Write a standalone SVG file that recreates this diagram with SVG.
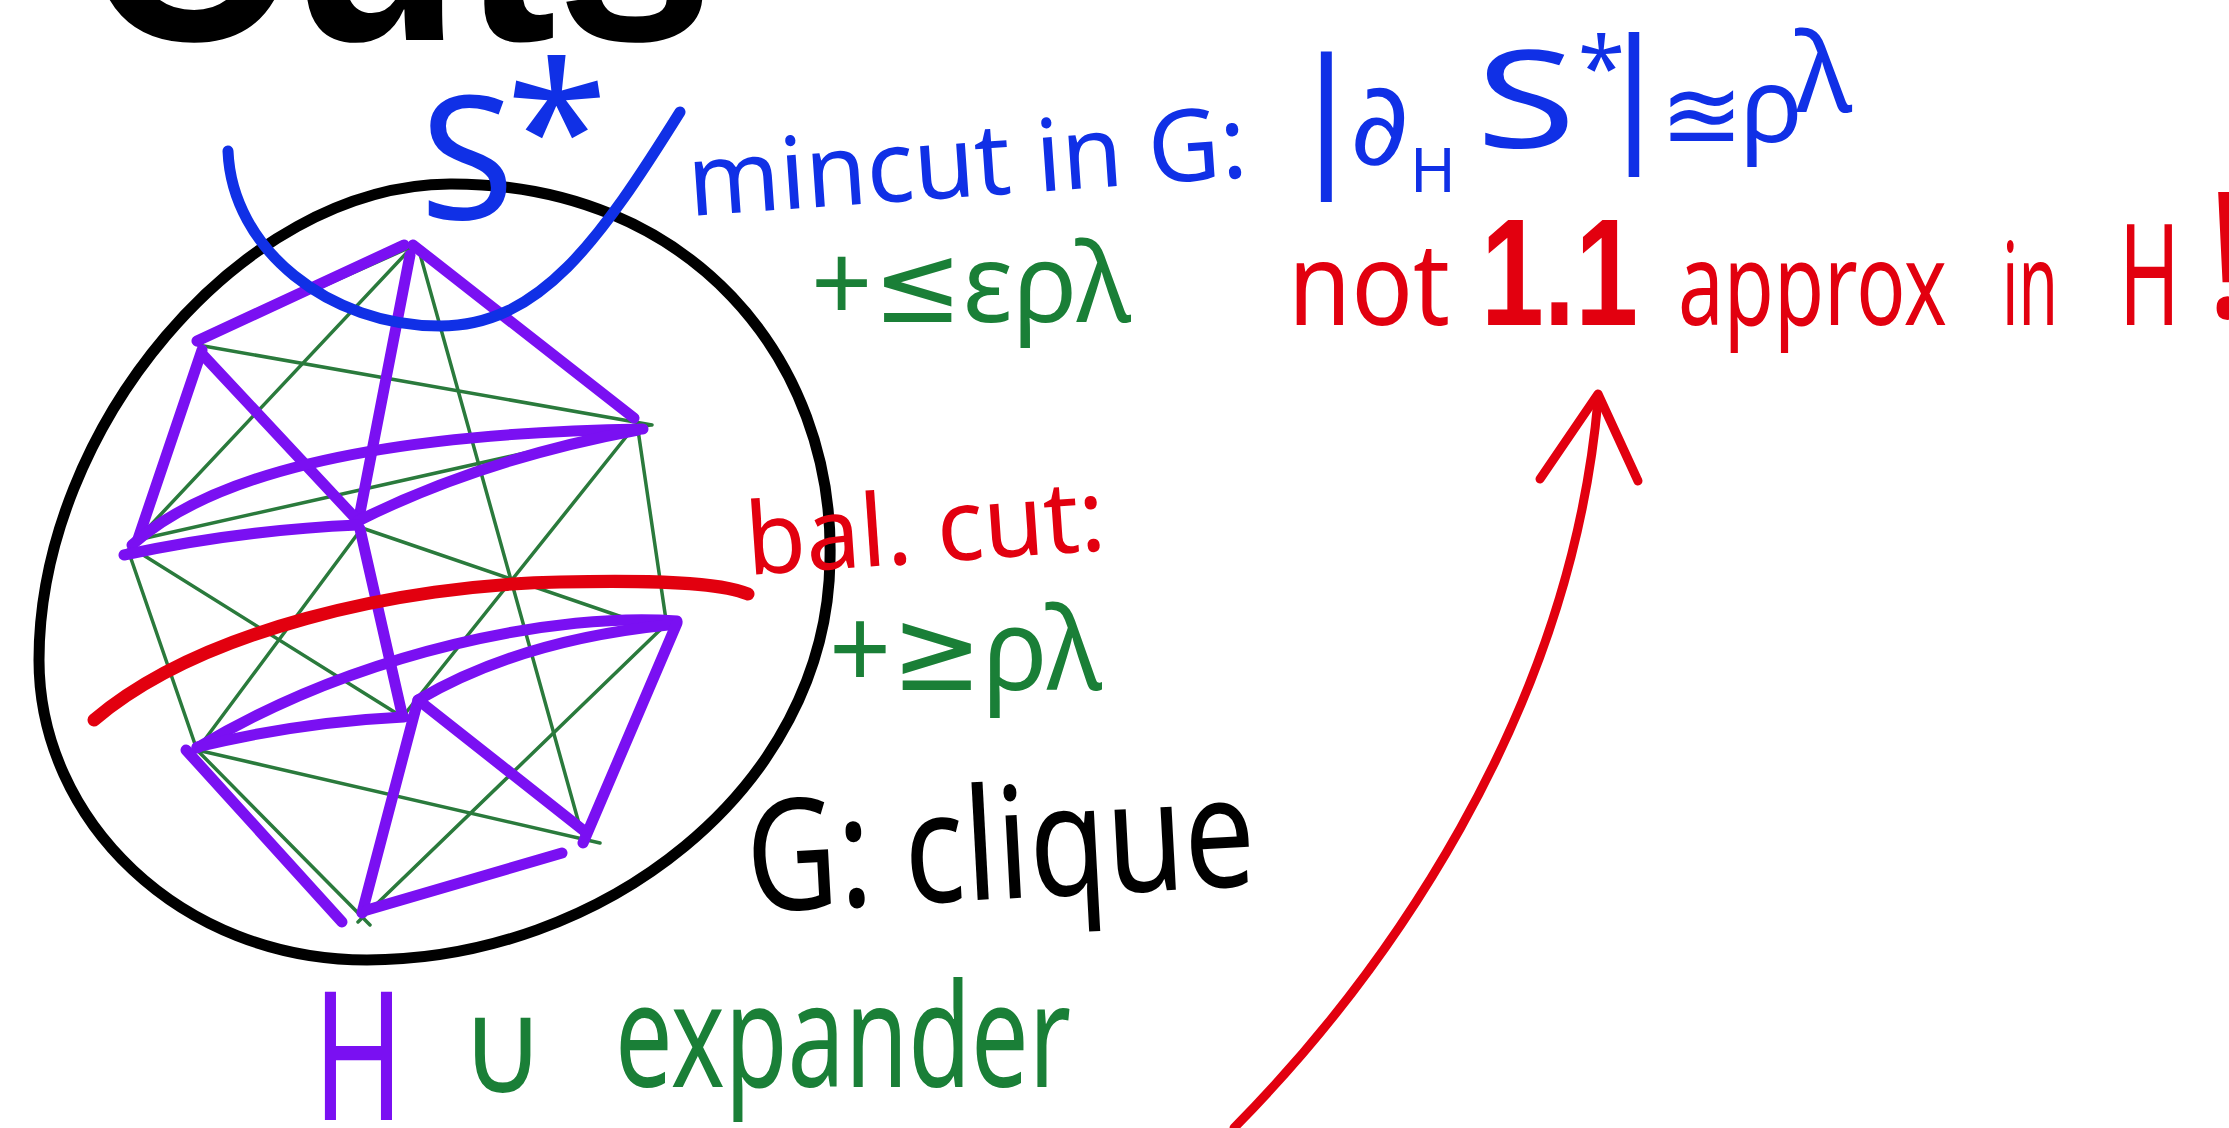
<svg xmlns="http://www.w3.org/2000/svg" width="2229" height="1128" viewBox="0 0 2229 1128">
<style>
.hw{font-family:"Noto Sans","DejaVu Sans",sans-serif}
.bold{font-family:"Liberation Sans",Arial,sans-serif;font-weight:bold}
.blue{fill:#1030e6}
.green{fill:#1a7f37}
.red{fill:#e2000f}
.purple{fill:#7a10f2}
.blk{fill:#000}
.pe{stroke:#7a10f2;stroke-width:11;stroke-linecap:round;stroke-linejoin:round;fill:none}
.ge{stroke:#2a7a3c;stroke-width:3.5;stroke-linecap:round;fill:none}
</style>
<rect width="2229" height="1128" fill="#fff"/>

<g id="title">
<text class="bold blk" x="84" y="40" font-size="290" textLength="630" lengthAdjust="spacingAndGlyphs">Cuts</text>
</g>

<g id="ellipse-G">
<path d="M450,184 C690,183 835,360 830,560 C827,790 600,960 367,960 C180,960 39,820 39,660 C39,430 240,185 450,184 Z" fill="none" stroke="#000" stroke-width="11"/>
</g>

<g id="graph">
<g id="expander-edges">
<line class="ge" x1="413" y1="246" x2="132" y2="545"/>
<line class="ge" x1="413" y1="246" x2="198" y2="342"/>
<line class="ge" x1="420" y1="254" x2="583" y2="838"/>
<line class="ge" x1="198" y1="345" x2="652" y2="425"/>
<line class="ge" x1="137" y1="540" x2="650" y2="425"/>
<line class="ge" x1="638" y1="430" x2="666" y2="620"/>
<line class="ge" x1="630" y1="432" x2="404" y2="715"/>
<line class="ge" x1="132" y1="548" x2="404" y2="718"/>
<line class="ge" x1="128" y1="550" x2="197" y2="750"/>
<line class="ge" x1="362" y1="528" x2="660" y2="630"/>
<line class="ge" x1="362" y1="528" x2="197" y2="750"/>
<line class="ge" x1="660" y1="630" x2="358" y2="922"/>
<line class="ge" x1="197" y1="750" x2="600" y2="843"/>
<line class="ge" x1="197" y1="750" x2="370" y2="925"/>
</g>
<g id="H-edges">
<line class="pe" x1="404" y1="245" x2="197" y2="341"/>
<line class="pe" x1="413" y1="245" x2="634" y2="418"/>
<line class="pe" x1="410" y1="255" x2="358" y2="523"/>
<line class="pe" x1="360" y1="529" x2="402" y2="714"/>
<line class="pe" x1="202" y1="350" x2="138" y2="539"/>
<line class="pe" x1="202" y1="354" x2="358" y2="521"/>
<path class="pe" d="M132,545 Q254,435 643,429"/>
<path class="pe" d="M358,521 Q482,459 638,430"/>
<path class="pe" d="M124,555 Q240,530 358,525"/>
<path class="pe" d="M677,621 C560,612 360,650 197,748"/>
<path class="pe" d="M668,625 Q520,640 418,700"/>
<path class="pe" d="M197,747 Q300,722 404,717"/>
<line class="pe" x1="418" y1="700" x2="362" y2="913"/>
<line class="pe" x1="422" y1="703" x2="583" y2="830"/>
<line class="pe" x1="677" y1="623" x2="583" y2="843"/>
<line class="pe" x1="186" y1="750" x2="342" y2="922"/>
<line class="pe" x1="367" y1="910" x2="562" y2="853"/>
</g>
</g>

<g id="balanced-cut">
<path d="M94,720 C200,630 400,585 560,582 C650,580 720,582 748,594" fill="none" stroke="#e2000f" stroke-width="13" stroke-linecap="round"/>
<text class="hw red" x="748" y="575" font-size="100" textLength="360" lengthAdjust="spacingAndGlyphs" transform="rotate(-4 748 575)">bal. cut:</text>
<text class="hw green" x="829" y="690" font-size="115" textLength="273" lengthAdjust="spacingAndGlyphs">+≥ρλ</text>
</g>

<g id="S-star">
<path d="M228,151 C232,250 330,326 440,326 C540,326 600,240 680,112" fill="none" stroke="#1030e6" stroke-width="11" stroke-linecap="round"/>
<text class="hw blue" x="420" y="219" font-size="172">S</text>
<text class="hw blue" x="506" y="196" font-size="185">*</text>
</g>

<g id="mincut-label">
<text class="hw blue" x="690" y="216" font-size="100" textLength="560" lengthAdjust="spacingAndGlyphs" transform="rotate(-4 690 216)">mincut in G:</text>
<text class="hw blue"><tspan x="1285" y="166" font-size="150">|</tspan><tspan x="1350" y="164" font-size="115">∂</tspan><tspan x="1410" y="192" font-size="62">H</tspan><tspan x="1476" y="148" font-size="136" textLength="100" lengthAdjust="spacingAndGlyphs">S</tspan><tspan x="1578" y="98" font-size="85">*</tspan><tspan x="1594" y="142" font-size="145">|</tspan><tspan x="1660" y="150" font-size="100">≊</tspan><tspan x="1740" y="142" font-size="105">ρ</tspan><tspan x="1795" y="112" font-size="110">λ</tspan></text>
<text class="hw green" x="811" y="322" font-size="110" textLength="320" lengthAdjust="spacingAndGlyphs">+≤ερλ</text>
</g>

<g id="approx-label">
<text class="hw red" x="1288" y="325" font-size="115" textLength="162" lengthAdjust="spacingAndGlyphs">not</text>
<text class="bold red" x="1481" y="325" font-size="153" textLength="157" lengthAdjust="spacingAndGlyphs">1.1</text>
<text class="hw red" x="1678" y="325" font-size="115" textLength="269" lengthAdjust="spacingAndGlyphs">approx</text>
<text class="hw red" x="2002" y="325" font-size="115" textLength="56" lengthAdjust="spacingAndGlyphs">in</text>
<text class="hw red" x="2119" y="325" font-size="140" textLength="61" lengthAdjust="spacingAndGlyphs">H</text>
<text class="hw red" x="2204" y="318" font-size="175">!</text>
</g>

<g id="clique-label">
<text class="hw blk" x="749" y="912" font-size="155" textLength="509" lengthAdjust="spacingAndGlyphs" transform="rotate(-3 749 912)">G: clique</text>
</g>

<g id="expander-label">
<text class="hw purple" x="313" y="1120" font-size="180" textLength="91" lengthAdjust="spacingAndGlyphs">H</text>
<text class="green" x="460" y="1093" font-size="130" font-family="DejaVu Sans,sans-serif" textLength="85" lengthAdjust="spacingAndGlyphs">∪</text>
<text class="hw green" x="615" y="1087" font-size="145" textLength="456" lengthAdjust="spacingAndGlyphs">expander</text>
</g>

<g id="connectors">
<path d="M1234,1128 C1380,980 1570,720 1598,400" fill="none" stroke="#e2000f" stroke-width="9" stroke-linecap="round"/>
<polyline points="1540,479 1598,394 1638,481" fill="none" stroke="#e2000f" stroke-width="9" stroke-linecap="round" stroke-linejoin="round"/>
</g>
</svg>
